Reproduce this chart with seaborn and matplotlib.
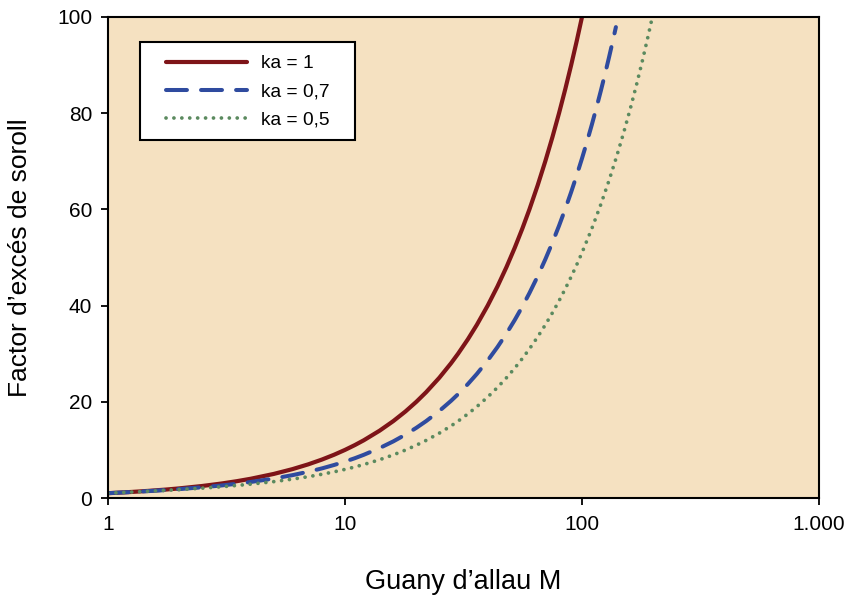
import matplotlib
matplotlib.use("Agg")
import matplotlib.pyplot as plt
import seaborn as sns
import pandas as pd
from matplotlib.ticker import FixedLocator, NullLocator
from matplotlib.patches import Rectangle

# Values
m_k1 = [1, 1.25, 1.5, 1.75, 2, 2.5, 3, 3.5, 4, 5, 6, 7, 8, 9, 10, 11, 12, 14, 16, 18, 20, 22, 25,
        28, 30, 33, 36, 40, 44, 48, 52, 56, 60, 65, 70, 75, 80, 85, 90, 95, 100]
f_k1 = [1, 1.25, 1.5, 1.75, 2, 2.5, 3, 3.5, 4, 5, 6, 7, 8, 9, 10, 11, 12, 14, 16, 18, 20, 22, 25,
        28, 30, 33, 36, 40, 44, 48, 52, 56, 60, 65, 70, 75, 80, 85, 90, 95, 100]

m_k07 = [1, 1.25, 1.5, 1.75, 2, 2.5, 3, 3.5, 4, 5, 6, 7, 8, 9, 10, 11, 12, 14, 16, 18, 20, 22, 25,
         28, 30, 33, 36, 40, 44, 48, 52, 56, 60, 65, 70, 75, 80, 85, 90, 95, 100, 105, 110, 115,
         120, 125, 130, 135, 139]
f_k07 = [1.0, 1.24, 1.45, 1.65, 1.85, 2.23, 2.6, 2.96, 3.33, 4.04, 4.75, 5.46, 6.16, 6.87, 7.57,
         8.27, 8.98, 10.38, 11.78, 13.18, 14.59, 15.99, 18.09, 20.19, 21.59, 23.69, 25.79, 28.59,
         31.39, 34.19, 36.99, 39.79, 42.6, 46.1, 49.6, 53.1, 56.6, 60.1, 63.6, 67.1, 70.6, 74.1,
         77.6, 81.1, 84.6, 88.1, 91.6, 95.1, 97.9]

m_k05 = [1, 1.25, 1.5, 1.75, 2, 2.5, 3, 3.5, 4, 5, 6, 7, 8, 9, 10, 11, 12, 14, 16, 18, 20, 22, 25,
         28, 30, 33, 36, 40, 44, 48, 52, 56, 60, 65, 70, 75, 80, 85, 90, 95, 100, 110, 120, 130,
         140, 150, 160, 170, 180, 190, 196]
f_k05 = [1.0, 1.23, 1.42, 1.59, 1.75, 2.05, 2.33, 2.61, 2.88, 3.4, 3.92, 4.43, 4.94, 5.44, 5.95,
         6.45, 6.96, 7.96, 8.97, 9.97, 10.98, 11.98, 13.48, 14.98, 15.98, 17.48, 18.99, 20.99,
         22.99, 24.99, 26.99, 28.99, 30.99, 33.49, 35.99, 38.49, 40.99, 43.49, 45.99, 48.49, 51.0,
         56.0, 61.0, 66.0, 71.0, 76.0, 81.0, 86.0, 91.0, 96.0, 99.0]

labels = ["ka = 1", "ka = 0,7", "ka = 0,5"]
x_ticks = [1, 10, 100, 1000]
x_tick_labels = ["1", "10", "100", "1.000"]
y_ticks = [0, 20, 40, 60, 80, 100]

df = pd.concat([
    pd.DataFrame({"M": m_k1, "F": f_k1, "serie": labels[0]}),
    pd.DataFrame({"M": m_k07, "F": f_k07, "serie": labels[1]}),
    pd.DataFrame({"M": m_k05, "F": f_k05, "serie": labels[2]}),
])

sns.set_theme(style="white")
plt.rcParams["font.family"] = ["Liberation Sans", "DejaVu Sans"]

fig = plt.figure(figsize=(8.48, 5.99), dpi=100)
ax = fig.add_axes([108 / 848, 1 - 498 / 599, (819 - 108) / 848, (498 - 17) / 599])
ax.set_facecolor("#F5E1C1")

colors = {labels[0]: "#7E1418", labels[1]: "#2F4B9F", labels[2]: "#5B8A5F"}
sns.lineplot(data=df, x="M", y="F", hue="serie", palette=colors, sort=False,
             estimator=None, ax=ax, legend=False)

lines = ax.get_lines()
lines[0].set_linewidth(3.0)
lines[0].set_solid_capstyle("round")
lines[1].set_linewidth(2.9)
lines[1].set_dashes([5.2, 3.5])
lines[1].set_dash_capstyle("round")
lines[2].set_linewidth(2.7)
lines[2].set_dashes([0.01, 2.1])
lines[2].set_dash_capstyle("round")

ax.set_xscale("log")
ax.set_xlim(1, 1000)
ax.set_ylim(0, 100)
ax.xaxis.set_major_locator(FixedLocator(x_ticks))
ax.xaxis.set_minor_locator(NullLocator())
ax.set_xticklabels(x_tick_labels)
ax.set_yticks(y_ticks)

for s in ax.spines.values():
    s.set_color("black")
    s.set_linewidth(1.5)

ax.tick_params(axis="both", which="major", direction="out", length=5, width=1.3,
               color="black", labelsize=15, labelcolor="black", bottom=True, left=True)
ax.tick_params(axis="x", pad=7)
ax.tick_params(axis="y", pad=6.5)

ax.set_xlabel("Guany d\u2019allau M", fontsize=19.5, color="black")
ax.xaxis.label.set_va("center")
ax.xaxis.set_label_coords(0.5, (498 - 582) / 481)
ax.set_ylabel("Factor d\u2019excés de soroll", fontsize=19, color="black")
ax.yaxis.label.set_va("center")
ax.yaxis.set_label_coords((20 - 108) / 711, 0.5)

# legend frame
ax.add_patch(Rectangle(((140 - 108) / 711, (498 - 140) / 481), 215 / 711, 98 / 481,
                       transform=ax.transAxes, facecolor="white", edgecolor="black",
                       linewidth=1.5, zorder=4))
leg = ax.legend(lines, labels, loc="upper left",
                bbox_to_anchor=((166 - 108) / 711, (498 - 55) / 481),
                frameon=False, fontsize=13.8, handlelength=4.2,
                borderpad=0, labelspacing=0.55, handletextpad=0.75, borderaxespad=0)
leg.set_zorder(5)
for t in leg.get_texts():
    t.set_color("black")

fig.savefig("out.png", dpi=100)
